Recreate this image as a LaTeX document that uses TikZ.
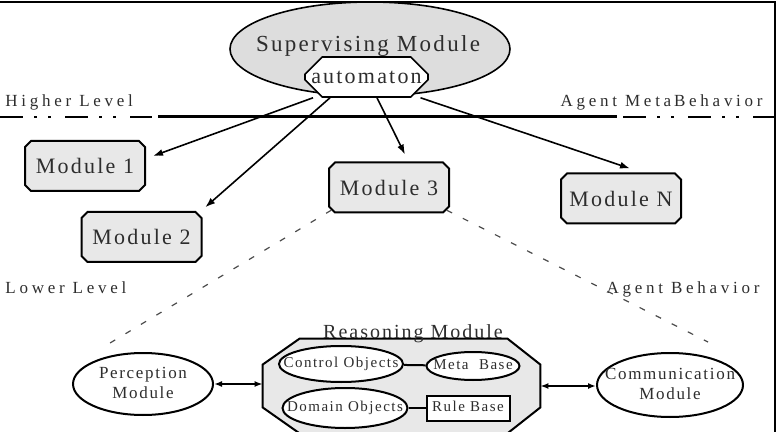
\documentclass[tikz,border=0pt]{standalone}
\usepackage{fontspec}
\setmainfont[LetterSpace=10]{Liberation Serif}
\newfontfamily\largespace[LetterSpace=22]{Liberation Serif}
\usepackage{xcolor}
\usetikzlibrary{arrows.meta}
\usetikzlibrary{shapes.geometric}
\usetikzlibrary{shapes.misc}

\definecolor{grisclair}{RGB}{232,232,232}
\definecolor{grismoyen}{RGB}{221,221,221}
\definecolor{encre}{RGB}{45,45,45}

% texte centre sans largeur, la forme garde sa taille
\newcommand{\sanslarg}[1]{\makebox[0pt]{\begin{tabular}{@{}c@{}}#1\end{tabular}}}

\begin{document}
\begin{tikzpicture}[x=0.5pt,y=-0.5pt]

\tikzset{
    fort/.style = {
    draw, line width=1pt, text=encre, inner sep=0pt
    }
}

\tikzstyle{module}=[fort, chamfered rectangle, chamfered rectangle xsep=1.5pt, chamfered rectangle ysep=1.5pt, fill=grisclair, minimum width=60pt, minimum height=25pt, font=\fontsize{11}{13}\selectfont]
\tikzstyle{superv}=[fort, ellipse, fill=grismoyen, line width=0.8pt, minimum width=140pt, minimum height=47pt]
\tikzstyle{automate}=[fort, chamfered rectangle, chamfered rectangle xsep=7pt, chamfered rectangle ysep=5.5pt, fill=white, line width=0.8pt, minimum width=60.5pt, minimum height=20pt, font=\fontsize{11}{13}\selectfont]
\tikzstyle{niveau}=[text=encre, inner sep=0pt, font=\largespace\fontsize{8.5}{10}\selectfont]
\tikzstyle{ovale}=[fort, ellipse, fill=white, font=\fontsize{8.5}{10}\selectfont]
\tikzstyle{petitovale}=[fort, ellipse, fill=white, font=\fontsize{7.5}{9}\selectfont]
\tikzstyle{raisonnement}=[inner sep=0pt, minimum width=138.5pt, minimum height=47pt]
\tikzstyle{octo}=[draw, line width=1pt, fill=grisclair]
\tikzstyle{pointille}=[line width=1pt, dash pattern=on 11.5pt off 5.5pt on 1.5pt off 5.5pt on 1.5pt off 7pt]
\tikzstyle{fleche}=[line width=0.8pt, -{Latex[length=5pt,width=3.5pt]}]
\tikzstyle{doublefleche}=[line width=0.8pt, {Latex[length=4pt,width=3pt]}-{Latex[length=4pt,width=3pt]}]
\tikzstyle{lien}=[line width=0.6pt, black!70, dash pattern=on 3pt off 6pt]

\useasboundingbox (0,0) rectangle (780,432);

\draw[line width=1pt] (0,2) -- (775,2) -- (775,432);

\node (sup) [superv] at (370,49) {};
\node (suptitre) [text=encre, inner sep=0pt, anchor=base, font=\fontsize{11.5}{13}\selectfont] at (368,52) {Supervising Module};
\node (auto) [automate] at (366.5,77) {automaton};

\node (haut) [niveau, anchor=base west] at (5,107) {Higher Level};
\node (metacomp) [niveau, anchor=base east] at (763,107) {Agent Meta\,Behavior};

\draw[pointille] (0,117) -- (152,117);
\draw[line width=1.5pt] (158,117) -- (617,117);
\draw[pointille] (623,117) -- (775,117);

\node (mod1) [module] at (85,166) {Module 1};
\node (mod2) [module] at (141.5,237) {Module 2};
\node (mod3) [module] at (389,187.5) {Module 3};
\node (modN) [module] at (621,198.5) {Module N};

\draw[fleche] ([xshift=-26.75pt]auto.south) -- ([shift={(3.5pt,5pt)}]mod1.east);
\draw[fleche] ([xshift=-18.25pt]auto.south) -- ([shift={(3pt,3.5pt)}]mod2.north east);
\draw[fleche] ([xshift=5.25pt]auto.south) -- ([shift={(8pt,3.5pt)}]mod3.north);
\draw[fleche] ([xshift=27pt]auto.south) -- ([shift={(4.5pt,2pt)}]modN.north);

\node (bas) [niveau, anchor=base west] at (5,293) {Lower Level};
\node (comp) [niveau, anchor=base east] at (760,293) {Agent Behavior};

\node (perc) [ovale, minimum width=70pt, minimum height=31pt] at (143,384) {\sanslarg{Perception\\Module}};
\node (comm) [ovale, minimum width=73pt, minimum height=32pt] at (670,385) {\sanslarg{Communication\\Module}};

\draw[lien] (mod3.south west) -- ([shift={(-19pt,3pt)}]perc.north);
\draw[lien] (mod3.south east) -- ([shift={(19pt,5pt)}]comm.north);

\node (raison) [raisonnement] at (401.5,386) {};
\draw[octo] ([xshift=18.5pt]raison.north west) -- ([xshift=-16.5pt]raison.north east)
    -- ([yshift=-13pt]raison.north east) -- ([yshift=13pt]raison.south east)
    -- ([xshift=-16.5pt]raison.south east) -- ([xshift=18.5pt]raison.south west)
    -- ([yshift=13pt]raison.south west) -- ([yshift=-13pt]raison.north west) -- cycle;
\node (raisontitre) [text=encre, inner sep=0pt, anchor=base, font=\fontsize{10}{12}\selectfont] at (413,338) {Reasoning Module};

\node (ctrl) [petitovale, minimum width=62pt, minimum height=18pt] at (341,364) {\sanslarg{Control Objects}};
\node (metab) [petitovale, minimum width=46.5pt, minimum height=14pt] at (473,366) {\sanslarg{Meta~ Base}};
\node (dom) [petitovale, minimum width=62.5pt, minimum height=20pt] at (345,408) {\sanslarg{Domain Objects}};
\node (regle) [fort, fill=white, minimum width=41.5pt, minimum height=12.5pt, font=\fontsize{7.5}{9}\selectfont] at (468,408) {\sanslarg{Rule Base}};

\draw[line width=1pt] (ctrl) -- (metab);
\draw[line width=1pt] (dom) -- (regle);

\draw[doublefleche] (perc.east) -- (perc.east -| raison.west);
\draw[doublefleche] (raison.east) -- (raison.east -| comm.west);

\end{tikzpicture}
\end{document}
